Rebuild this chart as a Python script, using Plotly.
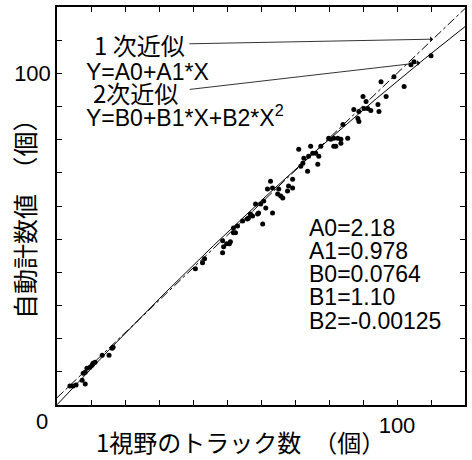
import numpy as np
import plotly.graph_objects as go

# Observed data (1視野のトラック数, 自動計数値)
track_x = [3.8, 4.7, 5.6, 7.4, 8.3, 7.7, 8.3, 8.8, 9.7, 10.3, 10.6, 11.2, 13.3, 15.3, 16.2, 16.5,
           40.7, 42.8, 43.4, 48.7, 49.0, 49.9, 50.7, 51.0, 48.7, 51.9, 51.9, 52.5, 53.1, 54.6,
           56.0, 56.3, 57.5, 59.3, 60.5, 56.9, 59.0, 58.4, 59.9, 60.8, 61.4, 63.4, 62.8, 63.4,
           61.9, 64.9, 65.8, 66.4, 65.2, 67.8, 68.1, 69.3, 69.3, 71.7, 72.3, 72.6, 73.7, 71.1,
           74.6, 74.0, 75.2, 76.1, 77.0, 76.7, 77.6, 79.9, 80.5, 81.4, 82.6, 83.5, 81.4, 82.0,
           83.5, 85.5, 84.1, 87.3, 88.5, 88.8, 88.8, 90.0, 90.3, 90.9, 91.4, 92.3, 94.4, 94.7,
           95.3, 96.8, 99.1, 102.1, 104.1, 105.0, 110.0]
auto_y = [5.7, 5.7, 6.0, 7.5, 6.3, 9.6, 9.9, 11.1, 11.4, 12.0, 12.6, 12.9, 15.0, 15.0, 17.1, 17.4,
          41.1, 42.9, 44.1, 45.9, 47.7, 48.6, 48.6, 49.2, 49.5, 51.9, 53.4, 51.9, 54.0, 55.5,
          56.1, 56.4, 57.0, 57.9, 54.6, 57.6, 57.6, 60.6, 60.6, 61.5, 59.4, 57.9, 67.5, 65.4,
          65.1, 63.6, 63.0, 62.4, 65.1, 64.5, 66.0, 68.1, 65.4, 72.0, 72.9, 74.4, 70.5, 77.1,
          78.0, 75.0, 75.9, 75.9, 75.0, 72.6, 78.0, 80.4, 80.1, 80.4, 80.4, 78.9, 78.0, 78.0,
          80.1, 80.4, 84.6, 89.1, 86.4, 85.5, 88.5, 93.0, 89.4, 91.5, 89.4, 88.8, 90.6, 88.5,
          97.5, 93.0, 99.0, 96.0, 102.6, 103.5, 105.3]

# Fit coefficients
A0, A1 = 2.18, 0.978
B0, B1, B2 = 0.0764, 1.10, -0.00125
param_lines = ["A0=2.18", "A1=0.978", "B0=0.0764", "B1=1.10", "B2=-0.00125"]

tick_vals = list(range(0, 121, 10))
tick_text = ["100" if v == 100 else "" for v in tick_vals]

LAT = "Liberation Sans, Noto Sans CJK JP, sans-serif"
CJK = "Noto Sans CJK JP, Liberation Sans, sans-serif"

W, H = 472, 460
ML, MR, MT, MB = 57, 7, 5, 55
PW, PH = W - ML - MR, H - MT - MB


def px(xp, yp):
    return (xp - ML) / PW, (H - MB - yp) / PH


xf = np.linspace(0, 120, 241)
fig = go.Figure()
fig.add_trace(go.Scatter(x=xf, y=A0 + A1 * xf, mode="lines",
                         line=dict(color="black", width=1, dash="dashdot"), hoverinfo="skip"))
fig.add_trace(go.Scatter(x=xf, y=B0 + B1 * xf + B2 * xf ** 2, mode="lines",
                         line=dict(color="black", width=1), hoverinfo="skip"))
fig.add_trace(go.Scatter(x=track_x, y=auto_y, mode="markers",
                         marker=dict(color="black", size=5)))

axis_common = dict(range=[0, 120], tickvals=tick_vals, ticktext=tick_text,
                   ticks="inside", ticklen=5, tickwidth=1, tickcolor="black",
                   showline=True, linecolor="black", linewidth=1.5, mirror="ticks",
                   showgrid=False, zeroline=False,
                   tickfont=dict(family=LAT, size=22, color="black"))
fig.update_layout(
    width=W, height=H, autosize=False,
    margin=dict(l=ML, r=MR, t=MT, b=MB),
    plot_bgcolor="white", paper_bgcolor="white",
    showlegend=False,
    xaxis=axis_common,
    yaxis=axis_common,
)


def text_ann(text, xp, yp, size=23, family=LAT, xanchor="left", **kw):
    x, y = px(xp, yp)
    return dict(text=text, x=x, y=y, xref="paper", yref="paper", xanchor=xanchor,
                yanchor="middle", showarrow=False,
                font=dict(family=family, size=size, color="black"), **kw)


ann = []
ann.append(text_ann("0", 42, 422, size=22, xanchor="center"))
ann.append(text_ann("1 次近似", 92, 43, size=24, family=CJK))
ann.append(text_ann("Y=A0+A1*X", 84, 70))
ann.append(text_ann("2次近似", 91, 91, size=24, family=CJK))
ann.append(text_ann("Y=B0+B1*X+B2*X<sup>2</sup>", 84, 115))
for i, t in enumerate(param_lines):
    ann.append(text_ann(t, 307, 227 + i * 23.3))
# pointer arrows
ann.append(dict(text="", x=110.6, y=110.3, ax=38.5, ay=108.9, xref="x", yref="y",
                axref="x", ayref="y", showarrow=True, arrowhead=1, arrowsize=1.2,
                arrowwidth=0.8, arrowcolor="black"))
ann.append(dict(text="", x=106.8, y=103.2, ax=38.6, ay=95.1, xref="x", yref="y",
                axref="x", ayref="y", showarrow=True, arrowhead=1, arrowsize=1.2,
                arrowwidth=0.8, arrowcolor="black"))
# axis titles
ann.append(text_ann("1視野のトラック数　（個）", 240, 442, size=24, family=CJK, xanchor="center"))
ann.append(text_ann("自動計数値　（個）", 24, 212, size=25, family=CJK, xanchor="center", textangle=-90))
fig.update_layout(annotations=ann)

fig.write_html("out.html",
               config={"displayModeBar": False},
               post_script="document.body.style.margin='0';document.body.style.padding='0';"
                           "document.body.style.overflow='hidden';")
